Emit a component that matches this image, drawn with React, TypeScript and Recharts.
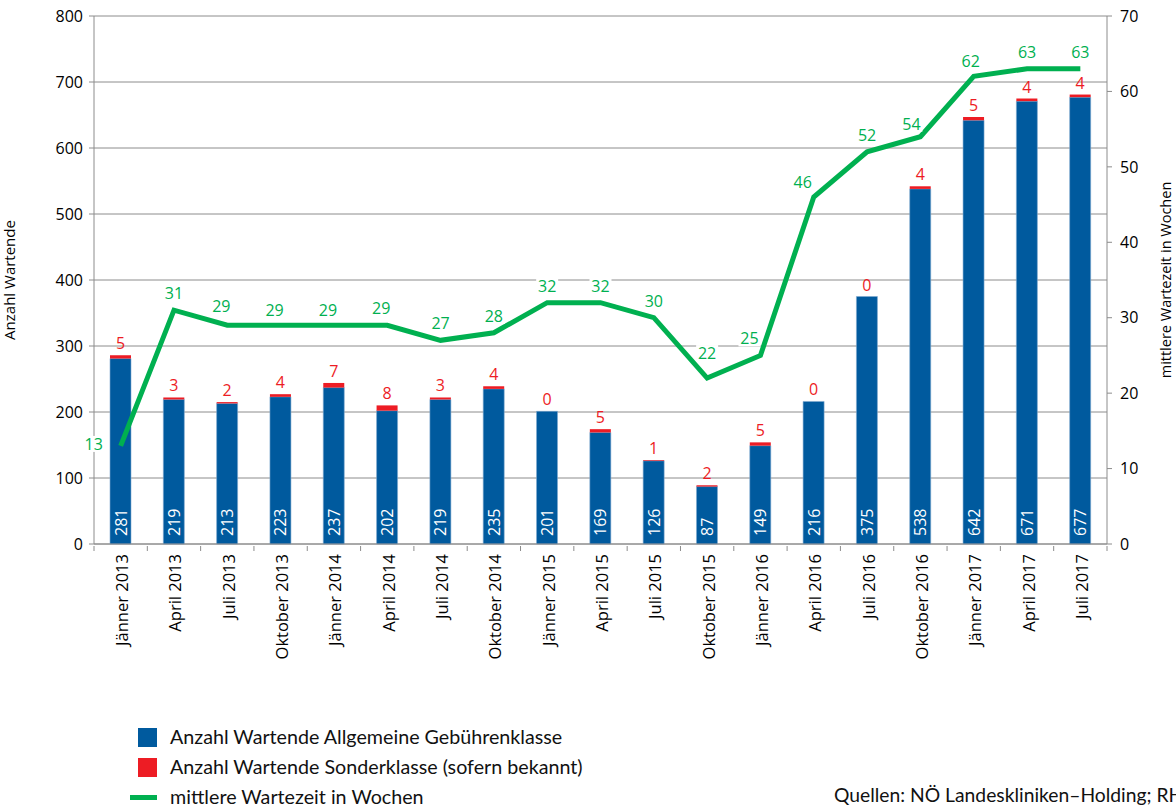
import React from "react";
import {
  ComposedChart,
  Bar,
  Line,
  XAxis,
  YAxis,
  CartesianGrid,
  LabelList,
} from "recharts";

// Warteliste, Stichtage 2013 - 2017
const periods = [
  "Jänner 2013", "April 2013", "Juli 2013", "Oktober 2013",
  "Jänner 2014", "April 2014", "Juli 2014", "Oktober 2014",
  "Jänner 2015", "April 2015", "Juli 2015", "Oktober 2015",
  "Jänner 2016", "April 2016", "Juli 2016", "Oktober 2016",
  "Jänner 2017", "April 2017", "Juli 2017",
];
const allgemein = [281, 219, 213, 223, 237, 202, 219, 235, 201, 169, 126, 87, 149, 216, 375, 538, 642, 671, 677];
const sonder = [5, 3, 2, 4, 7, 8, 3, 4, 0, 5, 1, 2, 5, 0, 0, 4, 5, 4, 4];
const wochen = [13, 31, 29, 29, 29, 29, 27, 28, 32, 32, 30, 22, 25, 46, 52, 54, 62, 63, 63];

const leftTicks = [0, 100, 200, 300, 400, 500, 600, 700, 800];
const rightTicks = [0, 10, 20, 30, 40, 50, 60, 70];

const BLUE = "#005a9e";
const RED = "#ed1c24";
const GREEN = "#00b050";
const FONT = "'Open Sans', 'Liberation Sans', sans-serif";
const TEXT_FONT = "Lato, 'Open Sans', sans-serif";

const data = periods.map((p, i) => ({
  name: p,
  allgemein: allgemein[i],
  sonder: sonder[i],
  wochen: wochen[i],
}));

const BAND = (1107 - 94) / periods.length;
const PX_PER_UNIT = 528 / 800; // left axis scale, used only to lift the red label over the red sliver

// label nudges for the green line (dx, dy relative to the point)
const lineLabelShift: Record<number, [number, number]> = {
  0: [-27, -2],
  2: [-6, -19],
  3: [-6, -15],
  4: [-6, -15],
  5: [-6, -17],
  11: [0, -25],
  12: [-11, -17],
  13: [-11, -15],
  15: [-9, -13],
  16: [-3, -15],
};

const XTick = (props: any) => {
  const { x, y, payload, index } = props;
  return (
    <g>
      <line x1={x - BAND / 2} y1={y} x2={x - BAND / 2} y2={y + 5} stroke="#8c8c8c" />
      {index === periods.length - 1 && (
        <line x1={x + BAND / 2} y1={y} x2={x + BAND / 2} y2={y + 5} stroke="#8c8c8c" />
      )}
      <text
        x={x + 1}
        y={y + 8}
        transform={`rotate(-90, ${x + 1}, ${y + 8})`}
        textAnchor="end"
        dominantBaseline="central"
        fontSize={16.5}
        fontFamily={FONT}
        fill="#000"
      >
        {payload.value}
      </text>
    </g>
  );
};

const BlueLabel = (props: any) => {
  const { x, y, width, height, value } = props;
  const cx = x + width / 2;
  const by = y + height - 8;
  return (
    <text
      x={cx}
      y={by}
      transform={`rotate(-90, ${cx}, ${by})`}
      textAnchor="start"
      dominantBaseline="central"
      fill="#fff"
      fontSize={16}
      fontFamily={FONT}
    >
      {value}
    </text>
  );
};

const RedLabel = (props: any) => {
  const { x, y, width, value } = props;
  const top = y - value * PX_PER_UNIT;
  return (
    <text
      x={x + width / 2}
      y={top - 12}
      textAnchor="middle"
      dominantBaseline="central"
      fill={RED}
      fontSize={16}
      fontFamily={FONT}
    >
      {value}
    </text>
  );
};

const LineLabel = (props: any) => {
  const { x, y, value, index } = props;
  const [dx, dy] = lineLabelShift[index] || [0, -17];
  const lx = x + dx;
  const ly = y + dy;
  return (
    <g>
      <rect x={lx - 11} y={ly - 8} width={22} height={16} fill="#fff" />
      <text
        x={lx}
        y={ly}
        textAnchor="middle"
        dominantBaseline="central"
        fill={GREEN}
        fontSize={16}
        fontFamily={FONT}
      >
        {value}
      </text>
    </g>
  );
};

const App: React.FC = () => {
  return (
    <div style={{ position: "absolute", left: 0, top: 0, width: 1176, height: 807, background: "#fff", overflow: "hidden" }}>
      <ComposedChart
        width={1176}
        height={807}
        data={data}
        margin={{ top: 16, right: 0, left: 0, bottom: 0 }}
        barGap={0}
      >
        <CartesianGrid yAxisId="left" vertical={false} stroke="#8c8c8c" strokeWidth={1} />
        <XAxis
          dataKey="name"
          interval={0}
          tick={<XTick />}
          tickLine={false}
          tickSize={0}
          height={263}
          axisLine={{ stroke: "#8c8c8c" }}
        />
        <YAxis
          yAxisId="left"
          domain={[0, 800]}
          ticks={leftTicks}
          width={94}
          tickSize={5}
          tickMargin={6}
          stroke="#8c8c8c"
          tick={{ fill: "#000", fontSize: 16, fontFamily: FONT }}
          label={{
            value: "Anzahl Wartende",
            angle: -90,
            position: "insideLeft",
            offset: 10,
            style: { fill: "#000", fontSize: 15, fontFamily: FONT, textAnchor: "middle" },
          }}
        />
        <YAxis
          yAxisId="right"
          orientation="right"
          domain={[0, 70]}
          ticks={rightTicks}
          width={69}
          tickSize={5}
          tickMargin={8}
          stroke="#8c8c8c"
          tick={{ fill: "#000", fontSize: 16, fontFamily: FONT }}
          label={{
            value: "mittlere Wartezeit in Wochen",
            angle: -90,
            position: "insideRight",
            offset: 10,
            style: { fill: "#000", fontSize: 14.5, fontFamily: FONT, textAnchor: "middle" },
          }}
        />
        <Bar yAxisId="left" dataKey="allgemein" stackId="a" fill={BLUE} stroke="#7fa9d0" strokeWidth={0.6} barSize={21} isAnimationActive={false}>
          <LabelList dataKey="allgemein" content={<BlueLabel />} />
          <LabelList dataKey="sonder" content={<RedLabel />} />
        </Bar>
        <Bar yAxisId="left" dataKey="sonder" stackId="a" fill={RED} barSize={21} isAnimationActive={false} />
        <Line
          yAxisId="right"
          dataKey="wochen"
          stroke={GREEN}
          strokeWidth={5}
          dot={false}
          type="linear"
          isAnimationActive={false}
        >
          <LabelList dataKey="wochen" content={<LineLabel />} />
        </Line>
      </ComposedChart>

      <div style={{ position: "absolute", left: 130, top: 722, fontFamily: TEXT_FONT, fontSize: 19.7, color: "#111", lineHeight: "30px" }}>
        <div style={{ display: "flex", alignItems: "center" }}>
          <span style={{ display: "inline-block", width: 19, height: 19, background: BLUE, marginLeft: 8, marginRight: 13 }} />
          Anzahl Wartende Allgemeine Gebührenklasse
        </div>
        <div style={{ display: "flex", alignItems: "center" }}>
          <span style={{ display: "inline-block", width: 19, height: 19, background: RED, marginLeft: 8, marginRight: 13 }} />
          Anzahl Wartende Sonderklasse (sofern bekannt)
        </div>
        <div style={{ display: "flex", alignItems: "center" }}>
          <span style={{ display: "inline-block", width: 27, height: 5, background: GREEN, marginRight: 13 }} />
          mittlere Wartezeit in Wochen
        </div>
      </div>
      <div style={{ position: "absolute", left: 834, top: 783, fontFamily: TEXT_FONT, fontSize: 19.3, color: "#111", whiteSpace: "nowrap" }}>
        Quellen: NÖ Landeskliniken–Holding; RH
      </div>
    </div>
  );
};

export default App;
